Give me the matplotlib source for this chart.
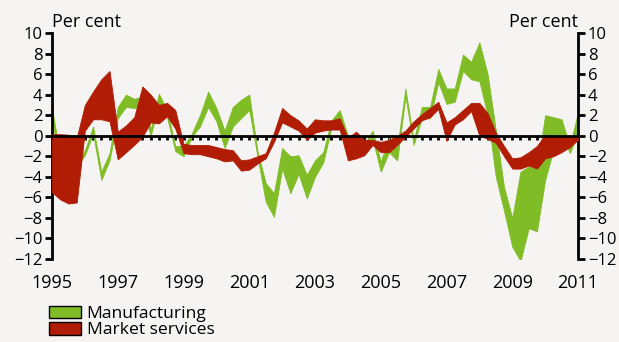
import numpy as np
import matplotlib
matplotlib.use("Agg")
import matplotlib.pyplot as plt
from matplotlib.patches import Patch

plt.rcParams['font.family'] = ['Open Sans', 'DejaVu Sans']

# quarterly time axis, 1995Q1 .. 2011Q1
quarters = np.arange(1995.0, 2011.001, 0.25)

manuf_upper = [2.7, -2.0, -1.8, -2.5, -1.4, 0.9, -3.5, -1.7, 2.8, 4.0, 3.6, 3.8, 0.6,
               4.1, 2.5, -1.0, -1.0, 0.2, 2.0, 4.3, 2.7, 0.5, 2.8, 3.5, 4.0, -1.5,
               -4.6, -5.6, -1.2, -2.0, -1.9, -3.8, -2.4, -1.6, 1.5, 2.5, 0.0, -1.0,
               -0.8, 0.5, -2.5, -0.2, -1.2, 4.6, -0.5, 2.8, 2.8, 6.5, 4.6, 4.6, 7.9,
               7.2, 9.1, 6.0, 0.5, -5.0, -8.0, -3.5, -3.0, -3.2, 2.0, 1.8, 1.6, -1.0, 2.3]
manuf_lower = [1.6, -2.8, -2.5, -3.0, -1.9, 0.2, -4.3, -2.4, 1.7, 2.8, 2.7, 2.8, 0.0,
               3.0, 1.8, -1.5, -2.0, -0.1, 0.9, 2.8, 1.4, -1.2, 0.9, 1.7, 2.5, -2.0,
               -6.4, -7.9, -3.2, -5.6, -3.7, -6.1, -4.0, -2.6, 0.8, 1.5, -0.4, -1.5,
               -1.2, -0.3, -3.5, -1.6, -2.4, 3.8, -0.9, 1.7, 1.7, 5.2, 3.1, 3.3, 6.3,
               5.5, 5.3, 2.0, -4.0, -7.3, -10.8, -12.2, -9.0, -9.3, -4.3, -1.4, 0.3, -1.7, 0.3]
serv_upper = [0.15, 0.15, 0.1, -0.2, 3.0, 4.3, 5.5, 6.3, 0.4, 1.0, 1.8, 4.8, 4.0,
              3.0, 3.2, 2.5, -0.8, -0.9, -0.9, -0.9, -1.1, -1.3, -1.4, -2.4, -2.3, -2.0,
              -1.7, 0.3, 2.7, 2.0, 1.5, 0.7, 1.6, 1.5, 1.5, 1.7, -0.2, 0.4,
              -0.4, -0.4, -0.6, -0.4, 0.0, 0.5, 1.4, 2.1, 2.7, 3.3, 1.3, 1.8, 2.5,
              3.2, 3.2, 2.2, 0.3, -1.0, -2.2, -2.1, -1.6, -1.0, 0.1, -0.1, -0.1, -0.2, -0.1]
serv_lower = [-5.5, -6.2, -6.6, -6.5, 0.5, 1.6, 1.6, 1.4, -2.3, -1.6, -0.9, -0.1, 1.3,
              1.2, 1.9, 0.7, -1.7, -1.8, -1.8, -2.0, -2.2, -2.5, -2.4, -3.4, -3.3, -2.7,
              -2.2, -0.6, 1.3, 0.9, 0.5, -0.4, 0.3, 0.5, 0.6, 0.6, -2.4, -2.2,
              -1.9, -0.9, -1.6, -1.6, -0.9, -0.1, 0.7, 1.5, 1.8, 2.6, -0.5, 1.1, 1.6,
              2.4, 0.0, -0.3, -0.7, -2.0, -3.2, -3.2, -2.9, -3.2, -2.2, -2.0, -1.6, -1.1, -0.4]

series_labels = ["Manufacturing", "Market services"]
year_ticks = [1995, 1997, 1999, 2001, 2003, 2005, 2007, 2009, 2011]
y_ticks = list(range(-12, 11, 2))

GREEN = "#80bc26"
RED = "#b01c04"
BG = "#f5f4f2"

W, H = 619, 342
fig = plt.figure(figsize=(W / 100, H / 100), dpi=100, facecolor=BG)
ax = fig.add_axes([52 / W, 1 - 259 / H, 526 / W, 226 / H], facecolor=BG)

ax.fill_between(quarters, manuf_lower, manuf_upper, color=GREEN, lw=0.6,
                edgecolor=GREEN, zorder=2)
ax.fill_between(quarters, serv_lower, serv_upper, color=RED, lw=0.6,
                edgecolor=RED, zorder=3)

ax.set_xlim(1995, 2011)
ax.set_ylim(-12, 10)

# spines
ax.spines['top'].set_visible(False)
for s in ('left', 'right'):
    ax.spines[s].set_linewidth(2)
    ax.spines[s].set_color('black')
ax.spines['bottom'].set_position(('data', 0))
ax.spines['bottom'].set_linewidth(2)
ax.spines['bottom'].set_zorder(5)

# quarterly ticks on the zero line
ax.set_xticks(quarters)
ax.set_xticklabels([])
ax.tick_params(axis='x', direction='out', length=3, width=2, color='black')

# y axis on both sides
ax.set_yticks(y_ticks)
ax.set_yticklabels([str(v).replace('-', '\u2212') for v in y_ticks])
ax.tick_params(axis='y', left=True, right=True, labelleft=True, labelright=True,
               direction='out', length=5, width=2, pad=2, labelsize=12)

# year labels
sec = ax.secondary_xaxis(0)
sec.set_xticks(year_ticks)
sec.set_xticklabels([str(y) for y in year_ticks])
sec.tick_params(length=0, pad=11, labelsize=13)
sec.spines['bottom'].set_visible(False)

# unit labels
ax.text(0, 1.0 + 6 / 226, "Per cent", transform=ax.transAxes, ha='left',
        va='baseline', fontsize=13)
ax.text(1, 1.0 + 6 / 226, "Per cent", transform=ax.transAxes, ha='right',
        va='baseline', fontsize=13)

handles = [Patch(facecolor=GREEN, edgecolor='black', lw=1),
           Patch(facecolor=RED, edgecolor='black', lw=1)]
fig.legend(handles, series_labels, loc='upper left',
           bbox_to_anchor=(49 / W, 1 - 306 / H), frameon=False, fontsize=12.6,
           handlelength=1.8, handleheight=0.7, handletextpad=0.35,
           labelspacing=0.0, borderaxespad=0, borderpad=0)

fig.savefig("out.png", dpi=100, facecolor=BG)
